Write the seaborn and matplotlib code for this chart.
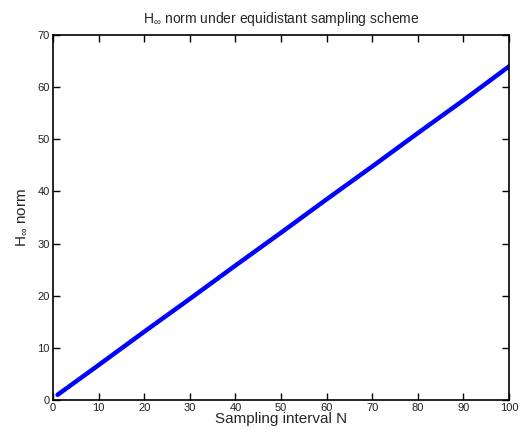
import matplotlib
matplotlib.use("Agg")
import matplotlib.pyplot as plt
import seaborn as sns
import pandas as pd

# data
sampling_interval = [1, 10, 20, 30, 40, 50, 60, 70, 80, 90, 100]
hinf_norm = [1.0, 6.7, 13.1, 19.4, 25.8, 32.1, 38.5, 44.8, 51.2, 57.5, 64.0]
x_ticks = [0, 10, 20, 30, 40, 50, 60, 70, 80, 90, 100]
y_ticks = [0, 10, 20, 30, 40, 50, 60, 70]

sns.set_style("ticks")
plt.rcParams['font.family'] = ['Liberation Sans', 'DejaVu Sans']
plt.rcParams['mathtext.fontset'] = 'custom'
plt.rcParams['mathtext.rm'] = 'Liberation Sans'
plt.rcParams['mathtext.it'] = 'Liberation Sans'
plt.rcParams['xtick.direction'] = 'in'
plt.rcParams['ytick.direction'] = 'in'

df = pd.DataFrame({"N": sampling_interval, "H": hinf_norm})

fig = plt.figure(figsize=(5.31, 4.34), dpi=100)
ax = fig.add_axes([0.0998, 0.0783, 0.8588, 0.8408])
sns.lineplot(data=df, x="N", y="H", ax=ax, color="#0000ff", linewidth=3.2)

ax.set_xlim(0, 100)
ax.set_ylim(0, 70)
ax.set_xticks(x_ticks)
ax.set_yticks(y_ticks)
ax.tick_params(axis='both', which='major', labelsize=8, length=5, width=1.0,
               direction='in', top=True, right=True, bottom=True, left=True,
               color='black', labelcolor='#222222', pad=2.5)
for s in ax.spines.values():
    s.set_visible(True)
    s.set_color('black')
    s.set_linewidth(1.2)

ax.set_xlabel("Sampling interval N", fontsize=11, labelpad=-1)
ax.set_ylabel(r"H$_{\infty}$ norm", fontsize=11, labelpad=6)
ax.set_title(r"H$_{\infty}$ norm under equidistant sampling scheme", fontsize=10, pad=9)

fig.savefig("out.png", dpi=100)
